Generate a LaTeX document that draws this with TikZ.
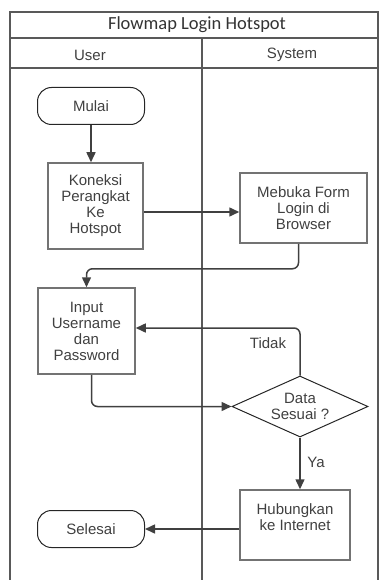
\documentclass[tikz,border=0pt]{standalone}
\usepackage{fontspec}
\setmainfont{Liberation Sans}
\newfontfamily\judulfont{Carlito}
\usetikzlibrary{positioning, calc}
\usetikzlibrary{shapes.geometric}
\usetikzlibrary{arrows.meta}

\begin{document}
\begin{tikzpicture}[x=1pt, y=-1pt,
    every node/.style={font=\fontsize{15}{16}\selectfont, text=black!75},
    garis/.style={draw=black!65, line width=1.5pt},
    judul/.style={font=\judulfont\fontsize{18.5}{20}\selectfont, text=black!80},
    proses/.style={draw=black!55, line width=1.5pt, align=center, inner sep=0pt},
    terminal/.style={draw=black!85, line width=1pt, rounded corners=14pt,
        minimum width=107pt, minimum height=37pt, inner sep=0pt},
    keputusan/.style={diamond, aspect=2.2, draw=black!85, line width=1pt,
        minimum width=136pt, minimum height=61pt, inner sep=0pt, align=center},
    panah/.style={-{Triangle[length=10pt, width=9pt]}, draw=black!75, line width=1.5pt}]
    \useasboundingbox (0,0) rectangle (380,580);

    % Kerangka swimlane
    \draw[garis] (10,580) -- (10,12) -- (378,12) -- (378,580);
    \draw[garis] (10,38) -- (378,38);
    \draw[garis] (10,68) -- (378,68);
    \draw[garis] (202,38) -- (202,580);
    \node[judul] (judul) at (197,25) {Flowmap Login Hotspot};
    \node (user) at (90,55) {User};
    \node (system) at (292,55) {System};

    % Simbol
    \node[terminal] (mulai) at (91,106) {Mulai};
    \node[proses, minimum width=95pt, minimum height=86pt] (koneksi) at (95.5,206) {Koneksi\\Perangkat\\Ke\\Hotspot};
    \node[proses, minimum width=127pt, minimum height=70pt] (mebuka) at (303.5,208) {Mebuka Form\\Login di\\Browser};
    \node[proses, minimum width=97pt, minimum height=86pt] (input) at (86.5,331) {Input\\Username\\dan\\Password};
    \node[keputusan] (cek) at (300,406.5) {Data\\Sesuai ?};
    \node[proses, minimum width=110pt, minimum height=70pt] (hubung) at (295,525) {Hubungkan\\ke Internet\\\mbox{}};
    \node[terminal] (selesai) at (91,529) {Selesai};

    % Alur
    \draw[panah] (mulai.south) -- (mulai.south |- koneksi.north);
    \draw[panah] ([yshift=-6pt]koneksi.east) coordinate (k1) -- (k1 -| mebuka.west);
    \draw[panah, rounded corners=6pt] ([xshift=-5pt]mebuka.south) -- ++(0,25) -| (input.north);
    \draw[panah, rounded corners=6pt] ([xshift=5pt]input.south) |- (cek.west);
    \draw[panah, rounded corners=6pt] (cek.north) |- ([yshift=3pt]input.east);
    \draw[panah] (cek.south) -- (cek.south |- hubung.north);
    \draw[panah] (hubung.west |- selesai.east) -- (selesai.east);

    % Label cabang
    \node (tidak) at (268,343) {Tidak};
    \node (ya) at (316,462) {Ya};
\end{tikzpicture}
\end{document}
